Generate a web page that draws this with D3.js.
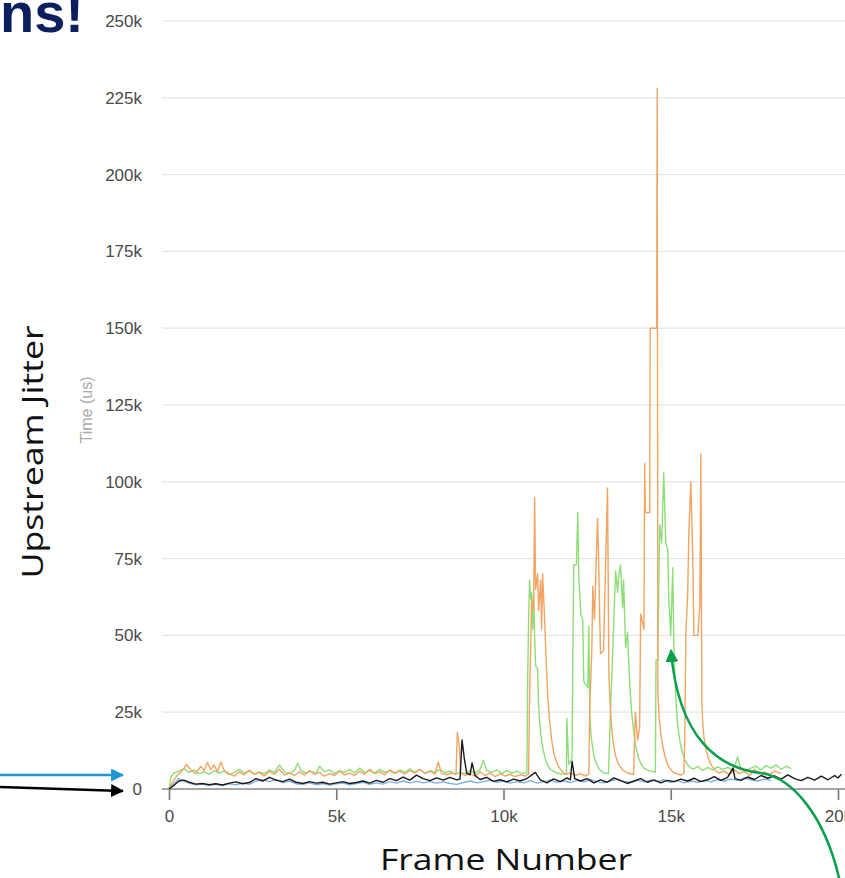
<!DOCTYPE html>
<html lang="en">
<head>
  <meta charset="utf-8">
  <title>Upstream Jitter</title>
  <script src="https://d3js.org/d3.v7.min.js"></script>
  <style>
    body { margin: 0; background: #fff; }
    svg { display: block; }
    .tick-label { font-family: "Liberation Sans", Arial, sans-serif; font-size: 17px; fill: #4a4a4a; }
    .grid line { stroke: #e6e6e6; stroke-width: 1.2; }
    .series { fill: none; stroke-width: 1.4; stroke-linejoin: round; }
  </style>
</head>
<body>
<script>
// tick values
const yTicks = [0, 25, 50, 75, 100, 125, 150, 175, 200, 225, 250];
const xTicks = [0, 5000, 10000, 15000, 20000];

// [frame, time in k-us]
const blueData = [[0,0],[150,1.8],[300,3.4],[450,2.6],[600,1.9],[800,1.4],[1000,1.6],[1200,1.2],[1400,1.5],[1600,1.1],[1800,1.7],[2000,1.4],[2200,1.9],[2400,1.5],[2600,2.6],[2800,3.0],[3000,2.4],[3200,3.1],[3400,2.0],[3600,2.6],[3800,1.7],[4000,1.5],[4200,2.0],[4400,1.4],[4600,1.8],[4800,1.3],[5000,1.7],[5200,1.9],[5400,1.4],[5600,1.8],[5800,2.2],[6000,1.5],[6200,2.0],[6400,1.6],[6600,2.4],[6800,1.9],[7000,2.6],[7200,2.0],[7400,2.5],[7600,2.0],[7800,2.4],[8000,1.9],[8200,2.3],[8400,1.8],[8600,1.5],[8800,2.1],[9000,2.6],[9200,2.0],[9400,2.4],[9600,2.8],[9800,2.2],[10000,2.6],[10200,1.9],[10400,2.4],[10600,2.0],[10800,2.7],[11000,1.9],[11200,2.4],[11400,2.9],[11600,2.2],[11800,2.6],[12000,2.1],[12200,2.8],[12400,2.3],[12600,3.0],[12800,2.4],[13000,2.0],[13200,2.6],[13400,3.2],[13600,2.5],[13800,2.1],[14000,2.8],[14200,2.3],[14400,2.9],[14600,2.4],[14800,3.0],[15000,2.2],[15200,2.7],[15400,2.0],[15600,2.6],[15800,2.2],[16000,2.8],[16200,2.3],[16400,3.0],[16600,2.6],[16800,3.2],[17000,2.8],[17200,3.6],[17400,3.0],[17600,2.6],[17800,3.2],[18000,2.8]];

const greenData = [[0,0],[60,4.0],[150,5.2],[300,5.8],[450,6.6],[600,5.4],[750,6.2],[900,5.0],[1050,5.6],[1200,4.8],[1350,6.0],[1500,5.2],[1650,5.8],[1800,4.6],[1950,5.4],[2100,6.4],[2250,5.2],[2400,5.8],[2550,4.8],[2700,5.6],[2850,5.0],[3000,6.2],[3150,5.4],[3300,7.8],[3450,5.6],[3600,5.0],[3750,6.0],[3850,8.4],[3950,6.0],[4100,5.2],[4250,5.8],[4400,5.0],[4500,7.4],[4650,5.6],[4800,6.2],[4950,5.0],[5100,6.0],[5250,5.4],[5400,6.4],[5550,5.2],[5700,6.8],[5850,5.4],[6000,6.0],[6150,5.2],[6300,6.4],[6450,5.4],[6600,6.0],[6750,5.0],[6900,6.2],[7050,5.4],[7200,6.6],[7350,5.6],[7500,6.2],[7650,5.2],[7800,6.0],[7950,5.4],[8100,6.4],[8250,5.2],[8400,5.8],[8550,4.8],[8700,5.4],[8850,5.0],[9000,6.0],[9150,5.2],[9300,6.4],[9400,9.4],[9500,6.0],[9650,5.4],[9800,6.2],[9950,5.0],[10100,6.0],[10250,5.2],[10400,5.8],[10550,5.0],[10700,5.4],[10720,33],[10750,55],[10780,68],[10810,62],[10840,64],[10870,52],[10900,63],[10930,50],[10960,40],[11020,39],[11050,27],[11080,22],[11110,18],[11150,15],[11200,12],[11250,9.8],[11290,8.4],[11350,7.2],[11410,6.3],[11600,5.2],[11800,4.8],[11880,5.0],[11895,23],[11950,8],[12050,10],[12070,40],[12100,73],[12180,73],[12220,90],[12250,70],[12310,57],[12370,55],[12400,35],[12520,33],[12550,53],[12580,24],[12620,17],[12670,13],[12720,10],[12790,8],[12850,6.8],[12900,6],[13000,5.2],[13140,5.0],[13200,26],[13260,43],[13350,71],[13410,64],[13440,69],[13500,73],[13560,59],[13590,68],[13650,46],[13710,51],[13740,42],[13780,33],[13830,25],[13890,19],[13950,14],[14040,10],[14120,8],[14200,6.8],[14340,6],[14540,5.5],[14560,42],[14610,42],[14670,86],[14730,80],[14790,103],[14850,80],[14910,78],[14940,62],[15000,50],[15060,72],[15090,48],[15120,37],[15150,30],[15190,23],[15240,18],[15300,14],[15360,11.5],[15430,9.2],[15510,7.8],[15600,6.8],[15700,6.5],[15800,7.4],[15950,6.0],[16100,7.0],[16250,6.2],[16400,7.2],[16550,6.4],[16700,7.0],[16850,6.2],[16950,8.6],[17000,10.5],[17080,7.0],[17250,6.0],[17400,6.8],[17550,7.4],[17700,6.2],[17850,7.6],[18000,6.8],[18150,7.8],[18300,6.4],[18450,7.4],[18600,6.6]];

const orangeData = [[0,0],[120,2.5],[250,4.5],[400,6.0],[520,8.0],[650,6.2],[800,5.0],[950,7.4],[1050,6.0],[1150,8.6],[1250,6.4],[1350,7.8],[1450,5.6],[1550,8.8],[1650,6.0],[1800,5.0],[1950,4.2],[2100,5.6],[2250,4.6],[2400,6.2],[2550,4.8],[2700,5.4],[2850,4.2],[3000,5.8],[3150,4.8],[3300,6.4],[3450,4.6],[3600,5.2],[3750,4.4],[3900,5.6],[4050,4.6],[4200,6.0],[4350,4.8],[4500,5.4],[4650,4.2],[4800,5.0],[4950,4.4],[5100,5.8],[5250,4.6],[5400,5.2],[5550,4.4],[5700,5.8],[5850,4.8],[6000,6.4],[6150,5.0],[6300,5.6],[6450,4.6],[6600,6.2],[6750,5.2],[6900,5.8],[7050,4.8],[7200,6.0],[7350,5.2],[7500,6.4],[7650,5.0],[7800,5.8],[7950,4.8],[8050,8.8],[8150,5.0],[8300,4.6],[8450,5.2],[8580,4.8],[8620,18.5],[8680,14.0],[8720,5.2],[8850,4.4],[9000,5.0],[9150,4.2],[9300,5.6],[9450,4.4],[9600,5.2],[9750,4.0],[9900,5.0],[10050,4.2],[10200,4.8],[10350,4.0],[10500,4.6],[10650,4.2],[10750,5.0],[10780,30],[10810,45],[10840,62],[10900,58],[10930,95],[10960,65],[11020,70],[11050,58],[11110,68],[11140,52],[11170,70],[11230,55],[11260,46],[11290,38],[11320,31],[11350,26],[11400,20],[11440,16],[11500,12],[11560,9.5],[11640,7.5],[11710,6.2],[11860,4.8],[12000,5.2],[12150,4.4],[12300,5.0],[12450,4.2],[12550,5.0],[12580,27],[12640,45],[12670,66],[12720,55],[12810,88],[12840,77],[12870,60],[12900,44],[12990,45],[13050,72],[13110,98],[13150,38],[13180,29],[13220,22],[13260,17],[13310,13],[13370,10],[13440,8],[13560,6.2],[13710,5.2],[13890,4.8],[13940,25],[14010,16],[14070,20],[14100,57],[14200,52],[14220,106],[14240,90],[14370,90],[14385,150],[14580,150],[14595,228],[14615,32],[14650,24],[14700,18],[14760,14],[14820,11],[14880,8.8],[14940,7.2],[15040,5.8],[15120,5.2],[15300,4.5],[15390,5],[15420,16],[15450,50],[15510,65],[15540,83],[15600,100],[15660,75],[15690,50],[15810,50],[15870,60],[15900,109],[15930,28],[15960,21],[15990,17],[16050,13],[16110,10.5],[16180,8.5],[16260,7],[16350,5.8],[16440,5.2],[16600,5.8],[16750,4.6],[16900,6.2],[17050,5.0],[17200,5.8],[17350,4.4],[17500,6.4],[17650,5.0],[17800,5.6],[17950,4.6],[18100,5.8],[18300,5.0]];

const blackData = [[0,0],[150,1.2],[300,2.6],[450,2.9],[600,2.2],[800,1.6],[1000,1.8],[1200,1.4],[1400,1.7],[1600,1.3],[1800,1.9],[2000,2.3],[2200,1.7],[2400,2.1],[2600,3.4],[2800,2.6],[3000,3.8],[3200,2.9],[3400,2.4],[3600,3.2],[3800,2.2],[4000,1.8],[4200,2.4],[4400,1.9],[4600,2.2],[4800,1.6],[5000,2.0],[5200,2.4],[5400,1.8],[5600,2.1],[5800,2.6],[6000,1.9],[6200,2.8],[6400,2.2],[6600,3.4],[6800,2.7],[7000,3.9],[7200,2.9],[7400,4.5],[7600,3.4],[7800,2.7],[8000,3.6],[8200,2.9],[8400,3.8],[8600,3.0],[8700,3.2],[8760,16.0],[8830,9.8],[8900,5.2],[9000,4.6],[9060,8.5],[9150,4.4],[9300,3.1],[9500,3.8],[9700,2.5],[9900,3.0],[10100,2.3],[10300,3.2],[10500,2.6],[10700,3.4],[10950,5.4],[11100,3.0],[11300,2.0],[11500,3.3],[11700,2.4],[11900,3.6],[12000,3.0],[12050,9.0],[12130,3.4],[12300,2.6],[12500,3.4],[12700,2.0],[12900,3.0],[13100,2.2],[13300,3.6],[13500,2.7],[13700,1.8],[13900,2.6],[14100,3.4],[14300,2.2],[14500,3.0],[14700,2.0],[14900,2.8],[15100,2.4],[15300,3.2],[15500,2.6],[15700,3.5],[15900,2.4],[16100,3.0],[16300,4.0],[16500,2.8],[16700,3.8],[16860,6.8],[16920,3.4],[17100,2.8],[17300,3.9],[17500,3.1],[17700,4.4],[17900,3.5],[18100,4.3],[18300,3.2],[18500,4.6],[18700,3.4],[18900,2.7],[19100,3.8],[19300,2.9],[19500,4.2],[19700,3.0],[19900,4.4],[20000,3.6],[20100,4.8]];

const seriesList = [
  {data: blueData, color: "#7fb0e6"},
  {data: greenData, color: "#8ede78"},
  {data: orangeData, color: "#f2a462"},
  {data: blackData, color: "#1a1a1a"}
];

const width = 845, height = 878;

const svg = d3.select("body").append("svg")
  .attr("width", width)
  .attr("height", height);

const x = d3.scaleLinear().domain([0, 20000]).range([169, 838]);
const y = d3.scaleLinear().domain([0, 250]).range([789, 21]);

// gridlines
svg.append("g").attr("class", "grid")
  .selectAll("line")
  .data(yTicks.filter(d => d > 0))
  .join("line")
  .attr("x1", 162).attr("x2", width)
  .attr("y1", d => y(d)).attr("y2", d => y(d));

// y tick labels
svg.append("g")
  .selectAll("text")
  .data(yTicks)
  .join("text")
  .attr("class", "tick-label")
  .attr("x", 142)
  .attr("y", d => y(d))
  .attr("dy", "0.35em")
  .attr("text-anchor", "end")
  .text(d => d === 0 ? "0" : d + "k");

// x axis
const xAxis = d3.axisBottom(x)
  .tickValues(xTicks)
  .tickSize(11)
  .tickPadding(10)
  .tickFormat(d => d === 0 ? "0" : (d / 1000) + "k");

const gx = svg.append("g")
  .attr("transform", `translate(0, ${y(0)})`)
  .call(xAxis);
gx.select(".domain").remove();
gx.selectAll(".tick line").attr("stroke", "#777").attr("stroke-width", 1.6);
gx.selectAll(".tick text")
  .attr("class", "tick-label")
  .attr("font-size", null).attr("font-family", null);

svg.append("line")
  .attr("x1", 162).attr("x2", width)
  .attr("y1", y(0)).attr("y2", y(0))
  .attr("stroke", "#888").attr("stroke-width", 1.6);

// series lines
const line = d3.line()
  .x(d => x(d[0]))
  .y(d => y(d[1]));

svg.append("g")
  .selectAll("path")
  .data(seriesList)
  .join("path")
  .attr("class", "series")
  .attr("stroke", d => d.color)
  .attr("d", d => line(d.data));

// axis titles
svg.append("text")
  .attr("transform", "translate(92, 410) rotate(-90)")
  .attr("text-anchor", "middle")
  .style("font-family", "Liberation Sans, Arial, sans-serif")
  .style("font-size", "16px")
  .style("fill", "#aaa")
  .text("Time (us)");

svg.append("text")
  .attr("transform", "translate(43, 452) rotate(-90)")
  .attr("text-anchor", "middle")
  .attr("textLength", 253)
  .attr("lengthAdjust", "spacingAndGlyphs")
  .style("font-family", "Open Sans, Noto Sans, sans-serif")
  .style("font-size", "30px")
  .style("fill", "#111")
  .text("Upstream Jitter");

svg.append("text")
  .attr("x", 506).attr("y", 870)
  .attr("text-anchor", "middle")
  .attr("textLength", 252)
  .attr("lengthAdjust", "spacingAndGlyphs")
  .style("font-family", "Open Sans, Noto Sans, sans-serif")
  .style("font-size", "30px")
  .style("fill", "#111")
  .text("Frame Number");

// cut-off slide title
svg.append("text")
  .attr("x", 84).attr("y", 32)
  .attr("text-anchor", "end")
  .style("font-family", "Liberation Sans, Arial, sans-serif")
  .style("font-weight", "bold")
  .style("font-size", "56px")
  .style("fill", "#0b1f5e")
  .text("ns!");

// arrow markers
const defs = svg.append("defs");
[["blueHead", "#1e96d4"], ["blackHead", "#000"], ["greenHead", "#08a04c"]].forEach(([id, c]) => {
  defs.append("marker")
    .attr("id", id)
    .attr("markerUnits", "userSpaceOnUse")
    .attr("viewBox", "0 0 12 12")
    .attr("refX", 11).attr("refY", 6)
    .attr("markerWidth", 13).attr("markerHeight", 13)
    .attr("orient", "auto")
    .append("path")
    .attr("d", "M0,0 L12,6 L0,12 Z")
    .attr("fill", c);
});

svg.append("line")
  .attr("x1", 0).attr("y1", 775).attr("x2", 123).attr("y2", 775)
  .attr("stroke", "#1e96d4").attr("stroke-width", 2.5)
  .attr("marker-end", "url(#blueHead)");

svg.append("line")
  .attr("x1", 0).attr("y1", 787).attr("x2", 123).attr("y2", 791)
  .attr("stroke", "#000").attr("stroke-width", 2.5)
  .attr("marker-end", "url(#blackHead)");

svg.append("path")
  .attr("d", "M840,882 C825,815 792,777 760,773 C720,768 678,740 671,650")
  .attr("fill", "none")
  .attr("stroke", "#08a04c").attr("stroke-width", 2.5)
  .attr("marker-end", "url(#greenHead)");
</script>
</body>
</html>
